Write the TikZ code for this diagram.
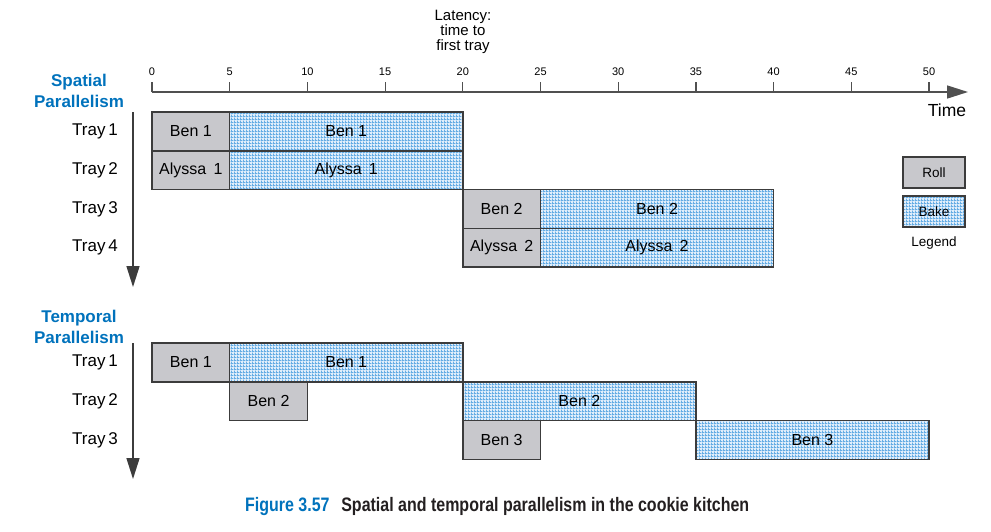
\documentclass[tikz,border=0pt]{standalone}
\usepackage{fontspec}
\setmainfont{Liberation Sans}
\newfontfamily\capfont[FakeStretch=0.82]{Liberation Sans}
\usetikzlibrary{arrows.meta,patterns.meta}
\definecolor{titleblue}{RGB}{0,114,188}
\definecolor{rollgray}{RGB}{200,200,204}
\definecolor{bordercol}{RGB}{60,60,60}
\definecolor{axiscol}{RGB}{80,80,80}
\definecolor{bakebg}{RGB}{224,238,251}
\definecolor{bakeline}{RGB}{100,172,228}
\definecolor{captext}{RGB}{35,31,32}
\tikzdeclarepattern{
  name=bakegrid,
  type=uncolored,
  bounding box={(0pt,0pt) and (3pt,3pt)},
  tile size={(3pt,3pt)},
  code={
    \fill (0pt,0pt) rectangle (3pt,1.2pt);
    \fill (0pt,0pt) rectangle (1.2pt,3pt);
  }
}
\tikzset{
  taskbase/.style={draw=bordercol, line width=1.5pt, outer sep=0pt, inner sep=0pt,
    minimum height=38.8pt, anchor=north west, font=\fontsize{16}{19}\selectfont},
  rollbox/.style={taskbase, fill=rollgray},
  bakebox/.style={taskbase, preaction={fill=bakebg}, pattern=bakegrid, pattern color=bakeline},
  traylab/.style={anchor=east, inner sep=0pt, font=\fontsize{17}{20}\selectfont},
  ticklab/.style={inner sep=0pt, font=\fontsize{11}{13}\selectfont},
  sectitle/.style={align=center, inner sep=0pt, text=titleblue, font=\fontsize{17}{21}\selectfont\bfseries},
  axisline/.style={draw=axiscol, line width=1.5pt},
  downarrow/.style={draw=bordercol, line width=1.5pt, -{Triangle[length=21pt,width=13pt]}},
  legbox/.style={draw=bordercol, line width=1.4pt, minimum width=62pt, minimum height=31pt, inner sep=0pt,
    font=\fontsize{13.5}{16}\selectfont}
}
\newcommand\taskbox[6]{%
  \node[#2, minimum width={(#4-#3)*15.54pt}] (#1) at ({152+#3*15.54}, #5) {#6};}
\begin{document}
\begin{tikzpicture}[x=1pt, y=-1pt]
\useasboundingbox (0,0) rectangle (991,531);
% time axis
\coordinate (ax0) at (152,92);
\coordinate (axend) at (968,92);
\draw[axisline, -{Triangle[length=21pt,width=13pt]}] (ax0) -- (axend);
\foreach \t in {0,5,...,50} {
  \coordinate (tk\t) at ({152+\t*15.54},92);
  \coordinate (tt\t) at ({152+\t*15.54},82);
  \draw[axisline, line width=1.2pt] (tk\t) -- (tt\t);
  \node[ticklab] (tl\t) at ({152+\t*15.54},72) {\t};
}
\node[font=\fontsize{17.5}{20}\selectfont, inner sep=0pt] (timelab) at (947,110) {Time};
\node[align=center, inner sep=0pt, font=\fontsize{15}{15}\selectfont] (latency) at (463,32) {Latency:\\time to\\first tray};
% spatial
\node[sectitle] (spatial) at (79,90.5) {Spatial\\Parallelism};
\node[traylab] (s1) at (118,131.4) {Tray\,1};
\node[traylab] (s2) at (118,170.2) {Tray\,2};
\node[traylab] (s3) at (118,209) {Tray\,3};
\node[traylab] (s4) at (118,247.8) {Tray\,4};
\coordinate (sa0) at (133,112);
\coordinate (sa1) at (133,287);
\draw[downarrow] (sa0) -- (sa1);
\taskbox{r1}{rollbox}{0}{5}{112}{Ben 1}
\taskbox{b1}{bakebox}{5}{20}{112}{Ben 1}
\taskbox{r2}{rollbox}{0}{5}{150.8}{Alyssa\hspace{0.45em}1}
\taskbox{b2}{bakebox}{5}{20}{150.8}{Alyssa\hspace{0.45em}1}
\taskbox{r3}{rollbox}{20}{25}{189.6}{Ben 2}
\taskbox{b3}{bakebox}{25}{40}{189.6}{Ben 2}
\taskbox{r4}{rollbox}{20}{25}{228.4}{Alyssa\hspace{0.45em}2}
\taskbox{b4}{bakebox}{25}{40}{228.4}{Alyssa\hspace{0.45em}2}
% legend
\node[legbox, fill=rollgray] (legroll) at (934,172.5) {Roll};
\node[legbox, preaction={fill=bakebg}, pattern=bakegrid, pattern color=bakeline] (legbake) at (934,211.5) {Bake};
\node[inner sep=0pt, font=\fontsize{13.5}{16}\selectfont] (legend) at (934,243) {Legend};
% temporal
\node[sectitle] (temporal) at (79,326.5) {Temporal\\Parallelism};
\node[traylab] (t1) at (118,362.4) {Tray\,1};
\node[traylab] (t2) at (118,401.2) {Tray\,2};
\node[traylab] (t3) at (118,440) {Tray\,3};
\coordinate (ta0) at (133,343);
\coordinate (ta1) at (133,479);
\draw[downarrow] (ta0) -- (ta1);
\taskbox{tr1}{rollbox}{0}{5}{343}{Ben 1}
\taskbox{tb1}{bakebox}{5}{20}{343}{Ben 1}
\taskbox{tr2}{rollbox}{5}{10}{381.8}{Ben 2}
\taskbox{tb2}{bakebox}{20}{35}{381.8}{Ben 2}
\taskbox{tr3}{rollbox}{20}{25}{420.6}{Ben 3}
\taskbox{tb3}{bakebox}{35}{50}{420.6}{Ben 3}
% caption
\node[anchor=west, inner sep=0pt, font=\capfont\bfseries\fontsize{19.5}{22}\selectfont] (caption) at (245,506)
  {\textcolor{titleblue}{Figure 3.57}\hspace{0.6em}\textcolor{captext}{Spatial and temporal parallelism in the cookie kitchen}};
\end{tikzpicture}
\end{document}
